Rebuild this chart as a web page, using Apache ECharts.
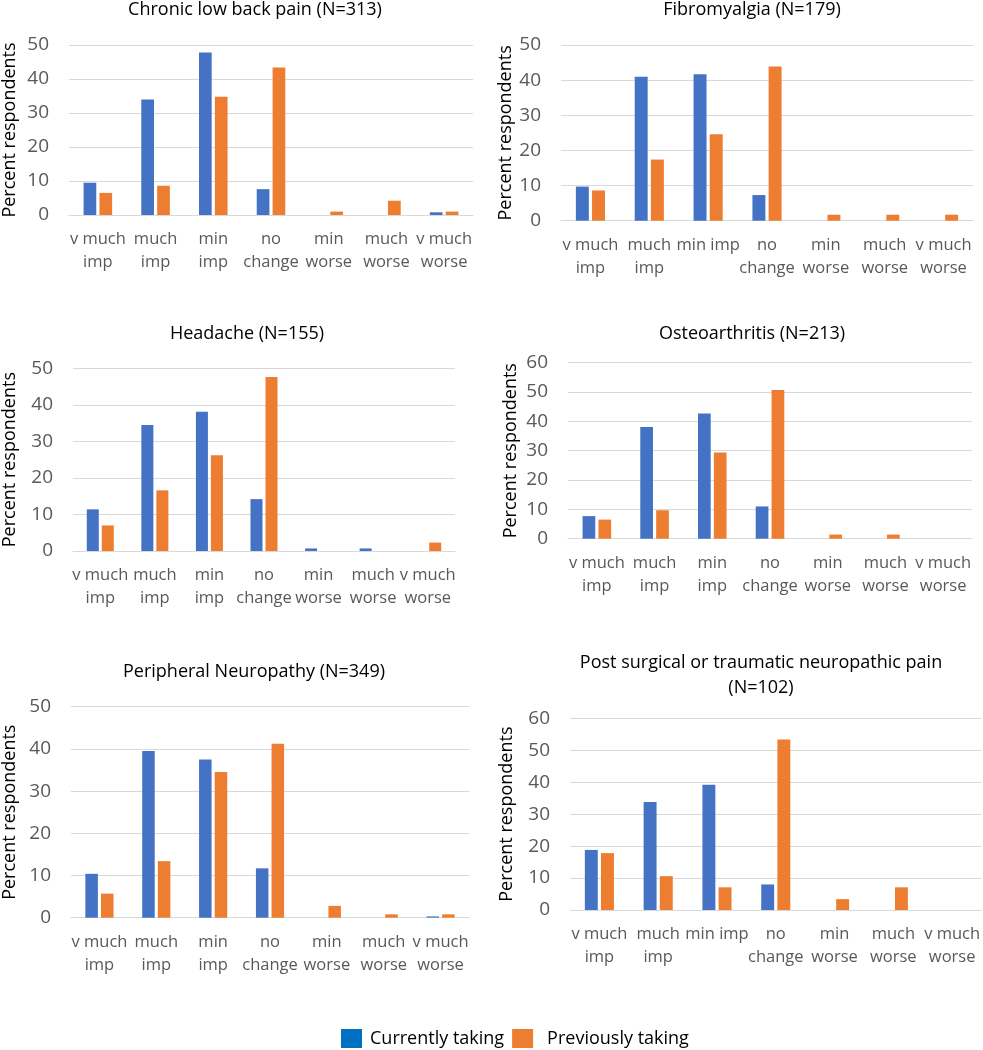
<!DOCTYPE html>
<html>
<head>
<meta charset="utf-8">
<script src="https://cdn.jsdelivr.net/npm/echarts@6/dist/echarts.min.js"></script>
<style>html,body{margin:0;padding:0;background:#fff}#c{width:983px;height:1050px}</style>
</head>
<body>
<div id="c"></div>
<script>
// ---- data ----
var labelsA = ['v much\nimp', 'much\nimp', 'min\nimp', 'no\nchange', 'min\nworse', 'much\nworse', 'v much\nworse'];
var labelsB = ['v much\nimp', 'much\nimp', 'min imp', 'no\nchange', 'min\nworse', 'much\nworse', 'v much\nworse'];
var seriesNames = ['Currently taking', 'Previously taking'];
var panelTitles = [
  'Chronic low back pain (N=313)',
  'Fibromyalgia (N=179)',
  'Headache (N=155)',
  'Osteoarthritis (N=213)',
  'Peripheral Neuropathy (N=349)',
  'Post surgical or traumatic neuropathic pain\n(N=102)'
];
var yMax = [50, 50, 50, 60, 50, 60];
var lowBackCurrent = [9.5, 34.0, 47.8, 7.6, 0, 0, 0.8];
var lowBackPrevious = [6.5, 8.6, 34.8, 43.4, 1.0, 4.2, 1.0];
var fibroCurrent = [9.7, 41.0, 41.7, 7.3, 0, 0, 0];
var fibroPrevious = [8.6, 17.4, 24.6, 43.9, 1.7, 1.7, 1.7];
var headacheCurrent = [11.4, 34.5, 38.1, 14.2, 0.7, 0.7, 0];
var headachePrevious = [7.0, 16.6, 26.2, 47.6, 0, 0, 2.3];
var osteoCurrent = [7.7, 38.1, 42.7, 11.0, 0, 0, 0];
var osteoPrevious = [6.5, 9.7, 29.4, 50.7, 1.4, 1.4, 0];
var neuroCurrent = [10.4, 39.5, 37.5, 11.7, 0, 0, 0.3];
var neuroPrevious = [5.7, 13.4, 34.5, 41.2, 2.8, 0.8, 0.8];
var postSurgCurrent = [18.8, 33.8, 39.2, 8.0, 0, 0, 0];
var postSurgPrevious = [17.8, 10.6, 7.1, 53.4, 3.4, 7.1, 0];

var currentData = [lowBackCurrent, fibroCurrent, headacheCurrent, osteoCurrent, neuroCurrent, postSurgCurrent];
var previousData = [lowBackPrevious, fibroPrevious, headachePrevious, osteoPrevious, neuroPrevious, postSurgPrevious];
var panelLabels = [labelsA, labelsB, labelsA, labelsA, labelsA, labelsB];

// ---- layout ----
var grids = [
  {left: 69, width: 404, top: 45, height: 170},
  {left: 561, width: 412, top: 45, height: 175.7},
  {left: 71, width: 384, top: 368.3, height: 182.7},
  {left: 568, width: 404, top: 362.7, height: 176},
  {left: 70, width: 399, top: 706.7, height: 211},
  {left: 570, width: 413, top: 718.3, height: 191.7}
];
var titlePos = [
  {x: 255, y: -3}, {x: 752, y: -3},
  {x: 247, y: 321}, {x: 752, y: 321},
  {x: 254, y: 659}, {x: 761, y: 650}
];
var nameGaps = [50, 46, 54, 48, 52, 54];

var FONT = '"Open Sans", "Noto Sans", sans-serif';
var BLUE = '#4472C4', ORANGE = '#ED7D31';

var option = {
  backgroundColor: '#fff',
  animation: false,
  title: [], grid: [], xAxis: [], yAxis: [], series: [],
  legend: {
    top: 1029, left: 341, padding: 0,
    itemWidth: 21, itemHeight: 19, itemGap: 8,
    icon: 'rect',
    textStyle: {fontFamily: FONT, fontSize: 18, color: '#000'},
    data: [
      {name: seriesNames[0], itemStyle: {color: '#0070C0'}, textStyle: {padding: [0, 0, 0, 3]}},
      {name: seriesNames[1], itemStyle: {color: ORANGE}, textStyle: {padding: [0, 0, 0, 9]}}
    ]
  }
};

for (var i = 0; i < 6; i++) {
  option.title.push({
    text: panelTitles[i], left: titlePos[i].x, top: titlePos[i].y,
    textAlign: 'center', padding: 0,
    textStyle: {fontFamily: FONT, fontSize: 18, fontWeight: 'normal', color: '#000', lineHeight: 25}
  });
  option.grid.push(Object.assign({containLabel: false}, grids[i]));
  option.xAxis.push({
    type: 'category', gridIndex: i, data: panelLabels[i],
    axisLine: {show: true, lineStyle: {color: '#D9D9D9', width: 1}},
    axisTick: {show: false},
    axisLabel: {fontFamily: FONT, fontSize: 16.5, color: '#595959', lineHeight: 23, margin: 13, interval: 0}
  });
  option.yAxis.push({
    type: 'value', gridIndex: i, min: 0, max: yMax[i], interval: 10,
    name: 'Percent respondents', nameLocation: 'middle', nameGap: nameGaps[i],
    nameTextStyle: {fontFamily: FONT, fontSize: 18, color: '#000'},
    axisLine: {show: false}, axisTick: {show: false},
    axisLabel: {fontFamily: FONT, fontSize: 19, color: '#595959', margin: 20},
    splitLine: {lineStyle: {color: '#D9D9D9', width: 1}}
  });
  option.series.push({
    name: seriesNames[0], type: 'bar', xAxisIndex: i, yAxisIndex: i,
    data: currentData[i], barWidth: '22%', barGap: '25%',
    itemStyle: {color: BLUE}
  });
  option.series.push({
    name: seriesNames[1], type: 'bar', xAxisIndex: i, yAxisIndex: i,
    data: previousData[i], barWidth: '22%', barGap: '25%',
    itemStyle: {color: ORANGE}
  });
}

var chart = echarts.init(document.getElementById('c'), null, {renderer: 'canvas'});
chart.setOption(option);
</script>
</body>
</html>
